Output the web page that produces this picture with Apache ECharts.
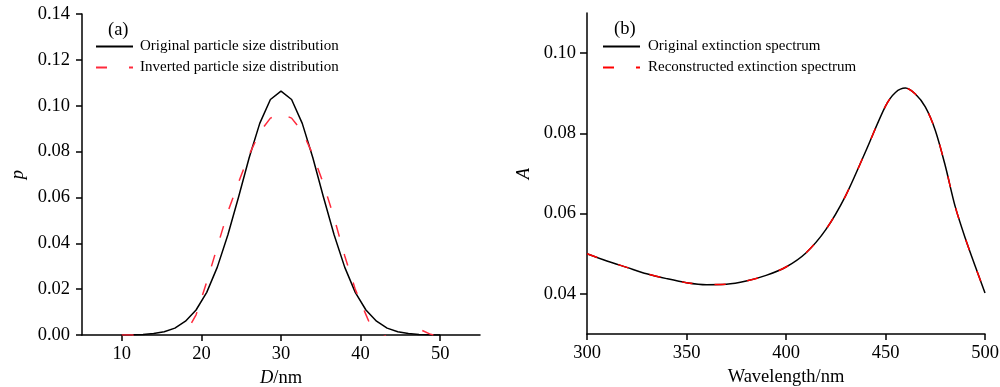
<!DOCTYPE html>
<html>
<head>
<meta charset="utf-8">
<script src="https://cdn.jsdelivr.net/npm/echarts@6/dist/echarts.min.js"></script>
<style>
html,body{margin:0;padding:0;background:#fff;}
#c{width:1000px;height:387px;}
</style>
</head>
<body>
<div id="c"></div>
<script>
// ---- Panel (a): particle size distribution ----
var sizeD = [10, 11.33, 12.67, 14, 15.33, 16.67, 18, 19.33, 20.67, 22, 23.33, 24.67, 26, 27.33, 28.67, 30,
             31.33, 32.67, 34, 35.33, 36.67, 38, 39.33, 40.67, 42, 43.33, 44.67, 46, 47.33, 48.67, 50];
var origP = [0.00004, 0.0001, 0.00026, 0.00064, 0.0014, 0.003, 0.006, 0.0109, 0.0186, 0.0296, 0.0437, 0.0602, 0.0773, 0.0923, 0.1027, 0.1064,
             0.1027, 0.0923, 0.0773, 0.0602, 0.0437, 0.0296, 0.0186, 0.0109, 0.006, 0.003, 0.0014, 0.00064, 0.00026, 0.0001, 0.00004];
var invP  = [0, 0, -0.002, -0.004, -0.006, -0.0074, 0.0007, 0.0088, 0.0231, 0.0385, 0.0538, 0.0666, 0.0786, 0.0885, 0.0946, 0.0964,
             0.0946, 0.0888, 0.0787, 0.066, 0.0511, 0.0346, 0.0199, 0.0089, -0.002, 0, 0, -0.004, 0.0026, 0.0005, -0.001];
var dTicks = [10, 20, 30, 40, 50];

// ---- Panel (b): extinction spectrum ----
var wavelength = [300, 310, 320, 330, 340, 350, 360, 370, 380, 390, 400, 410, 420, 430, 440, 450, 455, 460, 465, 470, 475, 480, 485, 490, 495, 500];
var origA = [0.0500, 0.0482, 0.0466, 0.0450, 0.0438, 0.0428, 0.0423, 0.0424, 0.0432, 0.0446, 0.0467, 0.0502, 0.0560, 0.0645, 0.0755, 0.0868, 0.0902, 0.0913, 0.0898, 0.0866, 0.0808, 0.0720, 0.0618, 0.0540, 0.0470, 0.0402];
var recA  = [0.0500, 0.0482, 0.0466, 0.0450, 0.0438, 0.0428, 0.0423, 0.0424, 0.0432, 0.0446, 0.0467, 0.0502, 0.0560, 0.0645, 0.0755, 0.0868, 0.0902, 0.0913, 0.0898, 0.0866, 0.0808, 0.0720, 0.0618, 0.0540, 0.0470, 0.0402];
var aTicks = [0.04, 0.06, 0.08, 0.10];

function pairs(xs, ys){ return xs.map(function(x,i){ return [x, ys[i]]; }); }

var FONT = 'Liberation Serif';
var lab = {fontFamily: FONT, fontSize: 18.5, color: '#000'};
var axisLine = {show: true, onZero: false, lineStyle: {color: '#000', width: 1.5}};

var chart = echarts.init(document.getElementById('c'), null, {renderer: 'canvas'});
chart.setOption({
  animation: false,
  backgroundColor: '#fff',
  grid: [
    {left: 82, top: 14, width: 398, height: 321, containLabel: false, outerBoundsMode: 'none'},
    {left: 587, top: 13, width: 398, height: 321, containLabel: false, outerBoundsMode: 'none'}
  ],
  xAxis: [
    {gridIndex: 0, type: 'value', min: 5, max: 55,
     axisLine: axisLine, splitLine: {show: false},
     axisTick: {show: true, length: 6, inside: false, customValues: dTicks, lineStyle: {color: '#000', width: 1.5}},
     axisLabel: Object.assign({margin: 10, customValues: dTicks}, lab),
     name: '{i|D}/nm', nameLocation: 'middle', nameGap: 31,
     nameTextStyle: {fontFamily: FONT, fontSize: 18.5, color: '#000',
       rich: {i: {fontFamily: FONT, fontSize: 18.5, fontStyle: 'italic', color: '#000'}}}},
    {gridIndex: 1, type: 'value', min: 300, max: 500, interval: 50,
     axisLine: axisLine, splitLine: {show: false},
     axisTick: {show: true, length: 6, inside: false, lineStyle: {color: '#000', width: 1.5}},
     axisLabel: Object.assign({margin: 10}, lab),
     name: 'Wavelength/nm', nameLocation: 'middle', nameGap: 31,
     nameTextStyle: {fontFamily: FONT, fontSize: 18.5, color: '#000'}}
  ],
  yAxis: [
    {gridIndex: 0, type: 'value', min: 0, max: 0.14, interval: 0.02,
     axisLine: axisLine, splitLine: {show: false},
     axisTick: {show: true, length: 6, inside: false, lineStyle: {color: '#000', width: 1.5}},
     axisLabel: Object.assign({margin: 12, formatter: function(v){ return v.toFixed(2); }}, lab),
     name: 'p', nameLocation: 'middle', nameGap: 54, nameRotate: 90,
     nameTextStyle: {fontFamily: FONT, fontSize: 18.5, fontStyle: 'italic', color: '#000'}},
    {gridIndex: 1, type: 'value', min: 0.03, max: 0.11,
     axisLine: axisLine, splitLine: {show: false},
     axisTick: {show: true, length: 7, inside: false, customValues: aTicks, lineStyle: {color: '#000', width: 1.5}},
     axisLabel: Object.assign({margin: 11, customValues: aTicks, formatter: function(v){ return v.toFixed(2); }}, lab),
     name: 'A', nameLocation: 'middle', nameGap: 53, nameRotate: 90,
     nameTextStyle: {fontFamily: FONT, fontSize: 18.5, fontStyle: 'italic', color: '#000'}}
  ],
  legend: [
    {orient: 'vertical', left: 95, top: 39, padding: 0, itemWidth: 37, itemHeight: 14, itemGap: 6,
     itemStyle: {opacity: 0},
     textStyle: {fontFamily: FONT, fontSize: 15, color: '#000', padding: [0, 0, 0, 2]},
     data: [
       {name: 'Original particle size distribution'},
       {name: 'Inverted particle size distribution', lineStyle: {type: [11, 22]}}
     ]},
    {orient: 'vertical', left: 602, top: 39, padding: 0, itemWidth: 37, itemHeight: 14, itemGap: 6,
     itemStyle: {opacity: 0},
     textStyle: {fontFamily: FONT, fontSize: 15, color: '#000', padding: [0, 0, 0, 3]},
     data: [
       {name: 'Original extinction spectrum'},
       {name: 'Reconstructed extinction spectrum', lineStyle: {type: [11, 22]}}
     ]}
  ],
  graphic: [
    {type: 'text', left: 108, top: 21, style: {text: '(a)', fontFamily: FONT, fontSize: 18.5, fill: '#000'}},
    {type: 'text', left: 614, top: 20, style: {text: '(b)', fontFamily: FONT, fontSize: 18.5, fill: '#000'}}
  ],
  series: [
    {name: 'Original particle size distribution', type: 'line', xAxisIndex: 0, yAxisIndex: 0,
     data: pairs(sizeD, origP), symbol: 'none', clip: true,
     lineStyle: {color: '#000', width: 1.5}, itemStyle: {color: '#000'}, z: 2},
    {name: 'Inverted particle size distribution', type: 'line', xAxisIndex: 0, yAxisIndex: 0,
     data: pairs(sizeD, invP), symbol: 'none', clip: true,
     lineStyle: {color: '#ff2a3c', width: 1.5, type: [12, 18]}, itemStyle: {color: '#ff2a3c'}, z: 3},
    {name: 'Original extinction spectrum', type: 'line', xAxisIndex: 1, yAxisIndex: 1,
     data: pairs(wavelength, origA), symbol: 'none', smooth: 0.3, clip: true,
     lineStyle: {color: '#000', width: 1.5}, itemStyle: {color: '#000'}, z: 2},
    {name: 'Reconstructed extinction spectrum', type: 'line', xAxisIndex: 1, yAxisIndex: 1,
     data: pairs(wavelength, recA), symbol: 'none', smooth: 0.3, clip: true,
     lineStyle: {color: '#ff0000', width: 1.5, type: [11, 22]}, itemStyle: {color: '#ff0000'}, z: 3}
  ]
});
</script>
</body>
</html>
